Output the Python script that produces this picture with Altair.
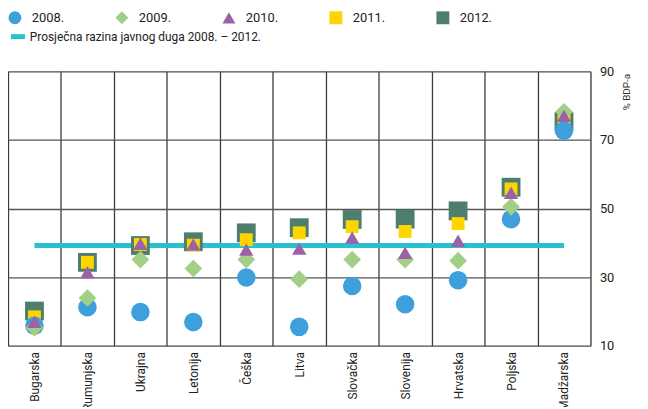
import altair as alt
import pandas as pd

countries = ["Bugarska", "Rumunjska", "Ukrajna", "Letonija", "Češka", "Litva",
             "Slovačka", "Slovenija", "Hrvatska", "Poljska", "Madžarska"]
d2008 = [15.8, 21.2, 19.8, 16.9, 29.9, 15.5, 27.4, 22.1, 29.1, 46.9, 72.7]
d2009 = [15.2, 23.9, 35.1, 32.5, 35.1, 29.4, 35.1, 35.1, 34.8, 50.5, 78.2]
d2010 = [17.0, 31.4, 39.7, 39.5, 38.0, 38.3, 41.5, 37.1, 40.6, 54.6, 77.0]
d2011 = [18.4, 34.3, 39.5, 39.3, 40.9, 42.9, 44.7, 43.3, 45.6, 55.7, 76.1]
d2012 = [20.1, 34.3, 39.2, 40.3, 42.9, 44.4, 46.8, 46.9, 49.3, 56.2, 75.3]
average_value = 39.2
average_label = "Prosječna razina javnog duga 2008. – 2012."

years = ["2008.", "2009.", "2010.", "2011.", "2012."]
series = [d2008, d2009, d2010, d2011, d2012]
colors = ["#3d9fdb", "#a0cf85", "#9c62a8", "#ffd500", "#4e7e6e"]
shapes = ["circle", "diamond", "triangle-up", "square", "square"]
sizes = [350, 320, 210, 169, 361]
draw_order = ["2012.", "2011.", "2008.", "2009.", "2010."]

FONT = "Roboto, Liberation Sans, sans-serif"

avg_df = pd.DataFrame({"country": [countries[0], countries[-1]],
                       "value": [average_value, average_value],
                       "label": [average_label, average_label]})

x_enc = alt.X("country:N", sort=countries,
              scale=alt.Scale(paddingInner=0, paddingOuter=0),
              axis=alt.Axis(title=None, grid=True, tickBand="extent", ticks=False,
                            domain=False, labelAngle=-90, labelFontSize=12,
                            labelFont=FONT, labelColor="#222", labelPadding=6,
                            gridColor="#3a3a3a", gridWidth=1.3))
y_enc = alt.Y("value:Q", scale=alt.Scale(domain=[10, 90], nice=False, zero=False),
              axis=alt.Axis(orient="right", values=[10, 30, 50, 70, 90], grid=True,
                            ticks=False, domain=False, labelFontSize=13, labelFont=FONT,
                            labelColor="#222", labelPadding=9, gridColor="#555",
                            gridWidth=1.3, title="% BDP-a", titleAngle=270,
                            titleFont=FONT, titleFontSize=10, titleFontWeight="normal",
                            titleColor="#333", titleAlign="right", titleBaseline="middle",
                            titleX=36, titleY=2))

legend_common = dict(title=None, orient="none", legendX=0, legendY=-61,
                     direction="horizontal", columns=5, gridAlign="all",
                     columnPadding=51, labelFont=FONT, labelFontSize=13,
                     labelColor="#222", symbolSize=170, padding=0,
                     labelOffset=10, symbolStrokeWidth=0)

color_scale = alt.Scale(domain=years, range=colors)
shape_scale = alt.Scale(domain=years, range=shapes)

line = alt.Chart(avg_df).mark_line(strokeWidth=5).encode(
    x=x_enc, y=y_enc,
    stroke=alt.Stroke("label:N", scale=alt.Scale(range=["#29c0cf"]),
                      legend=alt.Legend(title=None, orient="none", legendX=0, legendY=-45,
                                        labelFont=FONT, labelFontSize=12, labelColor="#222",
                                        symbolStrokeWidth=5, symbolSize=200, padding=0,
                                        labelOffset=2, labelLimit=500)))

# legend carrier layer (no rows, so it draws nothing; it only carries the legend)
legend_layer = alt.Chart(pd.DataFrame({"country": [], "value": [], "year": []})).mark_point(
    filled=True, opacity=1, strokeWidth=0, size=170).encode(
    x=alt.X("country:N", sort=countries),
    y="value:Q",
    color=alt.Color("year:N", sort=years, scale=color_scale,
                    legend=alt.Legend(**legend_common)),
    shape=alt.Shape("year:N", sort=years, scale=shape_scale,
                    legend=alt.Legend(**legend_common)),
)

layers = [line, legend_layer]
for yr in draw_order:
    i = years.index(yr)
    df = pd.DataFrame({"country": countries, "value": series[i], "year": yr})
    layers.append(
        alt.Chart(df).mark_point(filled=True, opacity=1, strokeWidth=0, size=sizes[i]).encode(
            x=alt.X("country:N", sort=countries),
            y="value:Q",
            color=alt.Color("year:N", sort=years, scale=color_scale, legend=None),
            shape=alt.Shape("year:N", sort=years, scale=shape_scale, legend=None),
        )
    )

chart = alt.layer(*layers).properties(
    width=588, height=277,
    autosize=alt.AutoSizeParams(type="none"),
    padding={"left": 0, "top": 62, "right": 50, "bottom": 60},
).configure_view(stroke="#222", strokeWidth=2).configure(background="white")

chart.save("out.html", embed_options={"renderer": "svg", "actions": False})
